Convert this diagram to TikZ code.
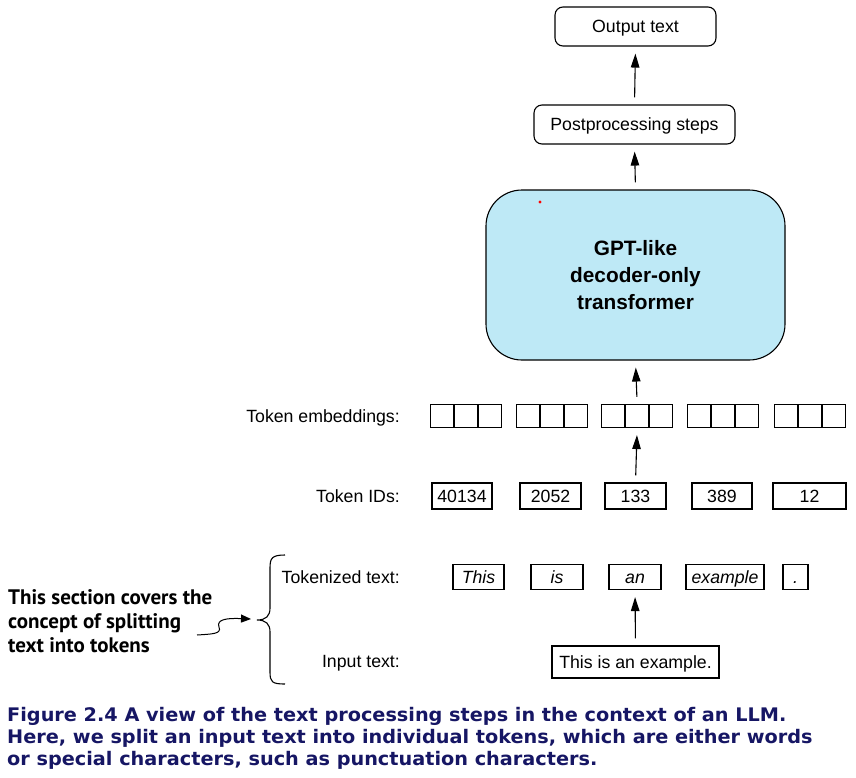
\documentclass[tikz,border=0pt]{standalone}
\usepackage{fontspec}
\setmainfont{Liberation Sans}
\newfontfamily\annfont{PT Sans}
\newfontfamily\capfont[FakeStretch=1.03]{DejaVu Sans}
\usetikzlibrary{arrows.meta}
\definecolor{gptblue}{RGB}{190,233,246}
\definecolor{capnavy}{RGB}{22,22,100}
\tikzset{
  box/.style={draw, line width=1.1pt, inner sep=0pt, text height=13pt, text depth=0.6pt, font=\fontsize{17.7}{20}\selectfont},
  rbox/.style={box, rounded corners=8pt},
  sq/.style={draw, line width=1.1pt, minimum width=23pt, minimum height=23pt, inner sep=0pt},
  lbl/.style={anchor=east, inner sep=0pt, text height=13pt, text depth=0.6pt, font=\fontsize{17.7}{20}\selectfont},
  tok/.style={box, minimum height=25pt, font=\fontsize{17.7}{20}\selectfont\itshape},
  arr/.style={-{Triangle[length=14pt,width=8.5pt]}, line width=1.1pt, shorten >=7pt, shorten <=7pt},
}
\begin{document}
\begin{tikzpicture}[x=1pt,y=-1pt]
\useasboundingbox (0,0) rectangle (856,777);
% top boxes
\node[rbox, minimum width=161pt, minimum height=39pt] (out) at (635.5,26.5) {Output text};
\node[rbox, minimum width=201pt, minimum height=39pt] (post) at (634.5,124.5) {Postprocessing steps};
\node[draw, line width=1.1pt, fill=gptblue, rounded corners=36pt, minimum width=299pt, minimum height=170pt,
      align=center, font=\fontsize{20.8}{27}\selectfont\bfseries] (gpt) at (635.5,275) {GPT-like\\decoder-only\\transformer};
\fill[red] (540,202) circle (1.6pt);
% embeddings
\node[lbl] (lemb) at (400,416) {Token embeddings:};
\foreach \g/\x in {1/430,2/516,3/601,4/687,5/774}{
  \node[sq, anchor=west] (e\g a) at (\x,416) {};
  \node[sq, anchor=west] (e\g b) at (e\g a.east) {};
  \node[sq, anchor=west] (e\g c) at (e\g b.east) {};
}
% token IDs
\node[lbl] (lid) at (400,496) {Token IDs:};
\node[box, minimum width=60pt, minimum height=26pt] (id1) at (462,496) {40134};
\node[box, minimum width=61pt, minimum height=26pt] (id2) at (550.5,496) {2052};
\node[box, minimum width=61pt, minimum height=26pt] (id3) at (635.5,496) {133};
\node[box, minimum width=60pt, minimum height=26pt] (id4) at (722,496) {389};
\node[box, minimum width=73pt, minimum height=26pt] (id5) at (809.5,496) {12};
% tokenized text
\node[lbl] (ltok) at (400,577) {Tokenized text:};
\node[tok, minimum width=51pt] (t1) at (478.5,577) {This};
\node[tok, minimum width=52pt] (t2) at (557,577) {is};
\node[tok, minimum width=52pt] (t3) at (635,577) {an};
\node[tok, minimum width=78pt] (t4) at (725,577) {example};
\node[tok, minimum width=25pt] (t5) at (795.5,577) {.};
% input text
\node[lbl] (lin) at (400,661) {Input text:};
\node[box, minimum width=167pt, minimum height=32pt] (in) at (635.5,662) {This is an example.};
% arrows
\draw[arr] (in.north) -- (t3.south);
\draw[arr] (id3.north) -- (e3b.south);
\draw[arr] (e3b.north) -- (gpt.south);
\draw[arr] (gpt.north) -- (post.south);
\draw[arr] (post.north) -- (out.south);
% brace
\coordinate (btip) at (257,620);
\draw[line width=1.1pt] (285,555) .. controls (272,555) and (270,558) .. (270,568) -- (270,608)
  .. controls (270,616) and (266,620) .. (btip) .. controls (266,620) and (270,624) .. (270,632)
  -- (270,672) .. controls (270,682) and (272,684) .. (285,684);
% annotation
\node[anchor=north west, inner sep=0pt, align=left, font=\annfont\bfseries\fontsize{21}{24}\selectfont] (ann) at (8,589)
  {This section covers the\\concept of splitting\\text into tokens};
\coordinate (sq0) at (197,635);
\coordinate (sq1) at (251,619);
\draw[-{Triangle[length=10pt,width=8pt]}, line width=1pt] (sq0) .. controls (212,634) and (222,634) .. (219,627)
  .. controls (216,619) and (228,618) .. (sq1);
% caption
\node[anchor=north west, inner sep=0pt, align=left, text=capnavy, font=\capfont\bfseries\fontsize{18.7}{22}\selectfont] (cap) at (7,707)
  {Figure 2.4 A view of the text processing steps in the context of an LLM.\\
   Here, we split an input text into individual tokens, which are either words\\
   or special characters, such as punctuation characters.};
\end{tikzpicture}
\end{document}
